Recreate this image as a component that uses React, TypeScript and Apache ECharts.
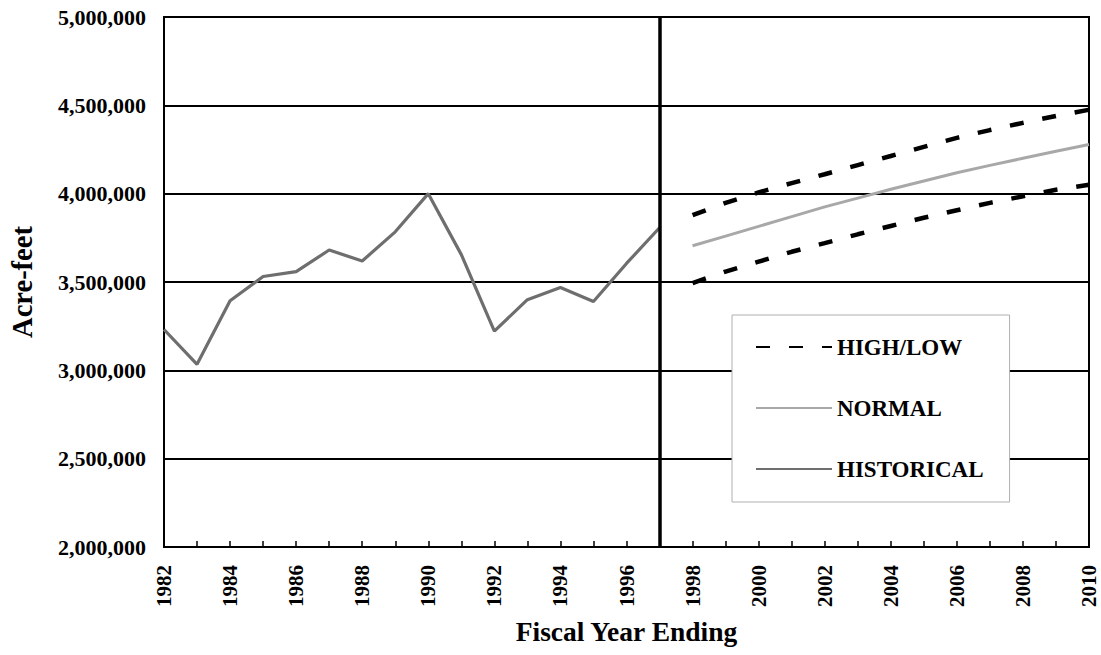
import React, { useEffect, useRef } from "react";
import * as echarts from "echarts";

const historicalYears = [1982, 1983, 1984, 1985, 1986, 1987, 1988, 1989, 1990, 1991, 1992, 1993, 1994, 1995, 1996, 1997];
const historical = [3231000, 3034000, 3394000, 3531000, 3559000, 3681000, 3619000, 3784000, 4000000, 3655000, 3222000, 3400000, 3469000, 3390000, 3605000, 3807000];

const forecastYears = [1998, 1999, 2000, 2001, 2002, 2003, 2004, 2005, 2006, 2007, 2008, 2009, 2010];
const high = [3878000, 3948000, 4007000, 4060000, 4110000, 4162000, 4213000, 4265000, 4316000, 4360000, 4401000, 4440000, 4475000];
const normal = [3705000, 3760000, 3815000, 3870000, 3925000, 3975000, 4025000, 4072000, 4118000, 4160000, 4200000, 4240000, 4278000];
const low = [3494000, 3559000, 3615000, 3671000, 3720000, 3770000, 3817000, 3864000, 3906000, 3948000, 3985000, 4022000, 4050000];

const dividerYear = 1997;
const xMin = 1982;
const xMax = 2010;
const yMin = 2000000;
const yMax = 5000000;
const yStep = 500000;

const legendNames = ["HIGH/LOW", "NORMAL", "HISTORICAL"];
const xTitle = "Fiscal Year Ending";
const yTitle = "Acre-feet";

const pairs = (xs: number[], ys: number[]) => xs.map((x, i) => [x, ys[i]]);

export default function App() {
  const ref = useRef<HTMLDivElement>(null);
  useEffect(() => {
    const chart = echarts.init(ref.current!, null, { renderer: "svg" });
    const font = "'Liberation Serif', 'Times New Roman', serif";
    const dash = { color: "#000", width: 4.5, type: [14, 19] as any, cap: "butt" as any };
    chart.setOption({
      animation: false,
      backgroundColor: "#fff",
      textStyle: { fontFamily: font, fontWeight: "bold", color: "#000" },
      grid: { left: 163, right: 12, top: 17, bottom: 108, show: true, borderColor: "#000", borderWidth: 2, backgroundColor: "transparent" },
      legend: {
        data: legendNames,
        orient: "vertical",
        left: 732,
        top: 315,
        padding: [20, 26, 21, 23],
        itemGap: 37,
        itemWidth: 76,
        itemHeight: 14,
        backgroundColor: "#fff",
        borderColor: "#b0b0b0",
        borderWidth: 1,
        itemStyle: { opacity: 0 },
        textStyle: { fontFamily: font, fontWeight: "bold", fontSize: 23, color: "#000", lineHeight: 24 },
      },
      xAxis: {
        type: "value",
        min: xMin,
        max: xMax,
        interval: 2,
        name: xTitle,
        nameLocation: "middle",
        nameGap: 70,
        nameTextStyle: { fontFamily: font, fontWeight: "bold", fontSize: 27.5, color: "#000" },
        axisLine: { show: true, lineStyle: { color: "#000", width: 2 } },
        axisTick: { show: true, inside: true, length: 6, lineStyle: { color: "#000", width: 1.5 } },
        minorTick: { show: true, splitNumber: 2, length: 6, lineStyle: { color: "#000", width: 1.5 } },
        splitLine: { show: false },
        axisLabel: { rotate: 90, margin: 18, fontSize: 21, fontFamily: font, fontWeight: "bold", color: "#000", formatter: (v: number) => String(v) },
      },
      yAxis: {
        type: "value",
        min: yMin,
        max: yMax,
        interval: yStep,
        name: yTitle,
        nameLocation: "middle",
        nameRotate: 90,
        nameGap: 127,
        nameTextStyle: { fontFamily: font, fontWeight: "bold", fontSize: 28.5, color: "#000" },
        axisLine: { show: true, lineStyle: { color: "#000", width: 2 } },
        axisTick: { show: false },
        splitLine: { show: true, lineStyle: { color: "#000", width: 2 } },
        axisLabel: { margin: 18, fontSize: 22, fontFamily: font, fontWeight: "bold", color: "#000", formatter: (v: number) => v.toLocaleString("en-US") },
      },
      series: [
        {
          name: "HISTORICAL",
          type: "line",
          data: pairs(historicalYears, historical),
          symbol: "none",
          lineStyle: { color: "#6e6e6e", width: 3.2 },
          itemStyle: { color: "#6e6e6e" },
          z: 3,
          markLine: {
            silent: true,
            symbol: "none",
            label: { show: false },
            lineStyle: { color: "#000", width: 3.5, type: "solid" },
            data: [{ xAxis: dividerYear }],
          },
        },
        {
          name: "NORMAL",
          type: "line",
          data: pairs(forecastYears, normal),
          symbol: "none",
          lineStyle: { color: "#a8a8a8", width: 3 },
          itemStyle: { color: "#a8a8a8" },
          z: 3,
        },
        {
          name: "HIGH/LOW",
          type: "line",
          data: pairs(forecastYears, high),
          symbol: "none",
          lineStyle: dash,
          itemStyle: { color: "#000" },
          z: 3,
        },
        {
          name: "HIGH/LOW",
          type: "line",
          data: pairs(forecastYears, low),
          symbol: "none",
          lineStyle: dash,
          itemStyle: { color: "#000" },
          z: 3,
        },
      ],
    });
    return () => chart.dispose();
  }, []);
  return <div ref={ref} style={{ position: "fixed", left: 0, top: 0, width: 1101, height: 655 }} />;
}
